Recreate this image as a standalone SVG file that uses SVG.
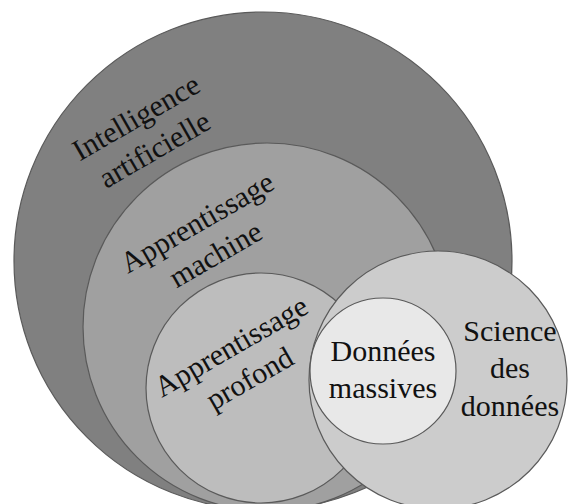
<svg xmlns="http://www.w3.org/2000/svg" width="568" height="504" viewBox="0 0 568 504">
<style>
.c{stroke:#5a5a5a;stroke-width:1.2}
.t{font-family:"Times New Roman","Liberation Serif","DejaVu Serif",serif;font-size:30px;fill:#111;text-anchor:middle}
</style>
<rect width="568" height="504" fill="#ffffff"/>
<g id="ia"><circle class="c" cx="263" cy="261" r="249" fill="#808080"/></g>
<g id="machine"><circle class="c" cx="267" cy="327" r="184" fill="#a0a0a0"/></g>
<g id="profond"><circle class="c" cx="261" cy="388" r="115" fill="#bdbdbd"/></g>
<g id="science"><circle class="c" cx="438" cy="380" r="129" fill="#cccccc"/></g>
<g id="massives"><circle class="c" cx="383" cy="371" r="73" fill="#e8e8e8"/></g>
<g id="labels">
<g transform="translate(145,133) rotate(-30)"><text class="t" x="0" y="-8">Intelligence</text><text class="t" x="0" y="29">artificielle</text></g>
<g transform="translate(206,238) rotate(-30)"><text class="t" x="0" y="-8">Apprentissage</text><text class="t" x="0" y="29">machine</text></g>
<g transform="translate(240,362) rotate(-30)"><text class="t" x="0" y="-8">Apprentissage</text><text class="t" x="0" y="29">profond</text></g>
<text class="t" x="383" y="361">Données</text><text class="t" x="383" y="398">massives</text>
<text class="t" x="510" y="341">Science</text><text class="t" x="510" y="378">des</text><text class="t" x="510" y="416">données</text>
</g>
<g id="connectors"></g>
</svg>
